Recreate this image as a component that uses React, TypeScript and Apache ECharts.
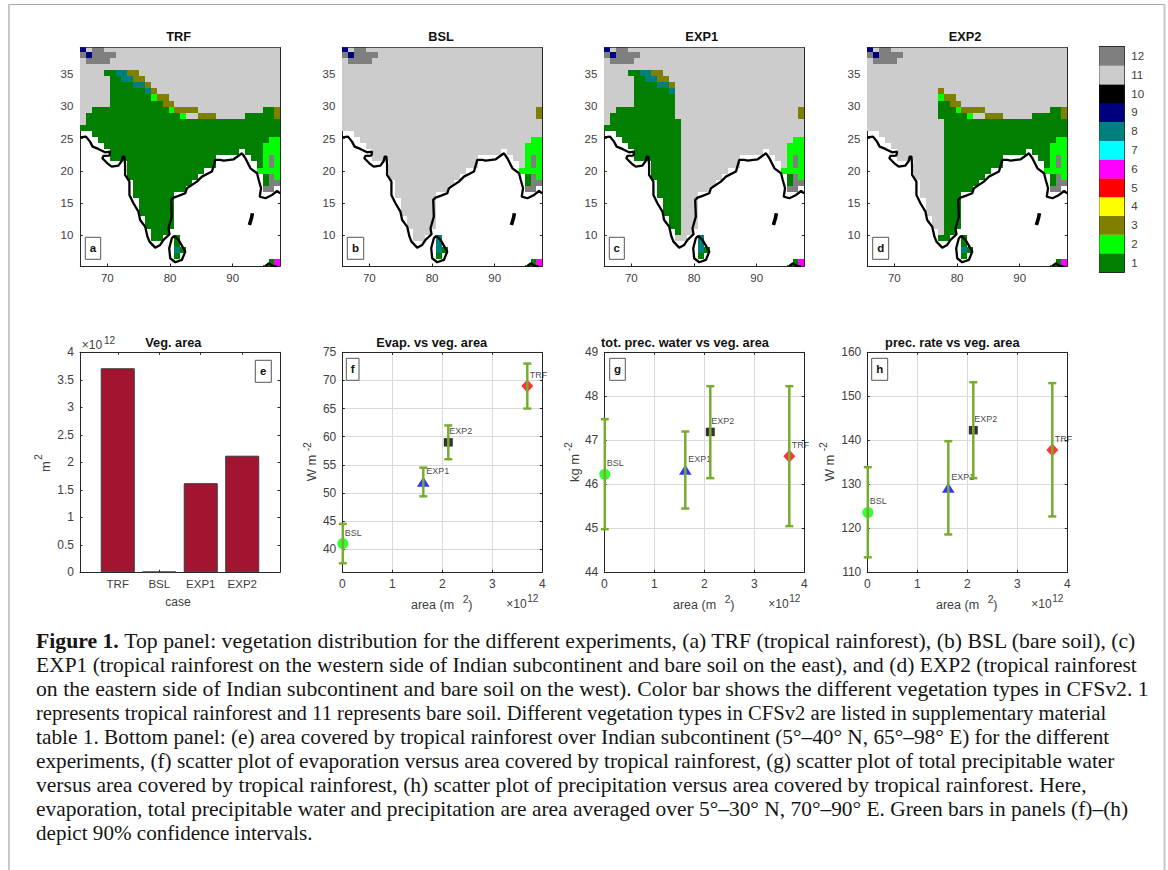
import React, { useEffect, useRef } from "react";
import * as echarts from "echarts";

const FONT = "'Liberation Sans', Arial, sans-serif";
const SERIF = "'Liberation Serif', serif";
const INK = "#404040";
const AXIS = "#262626";

// vegetation palette, index = vegetation type
const vegetationTypes = [1, 2, 3, 4, 5, 6, 7, 8, 9, 10, 11, 12];
const vegetationColors = ["#007f00", "#00ff00", "#7f7f00", "#ffff00", "#ff0000", "#ff00ff", "#00ffff", "#007f7f", "#00007f", "#000000", "#cccccc", "#7f7f7f"];

// grid geometry of the model cells (degrees)
const LON_EDGE = 65.68;
const LON_STEP = 0.9387;
const LAT_FIRST = 38.98;
const LAT_STEP = 0.947;
const LON_MAX = 97.6;
const LAT_MIN = 5.23;
const LAT_MAX = 39.13;
const lonTicks = [70, 80, 90];
const latTicks = [10, 15, 20, 25, 30, 35];

// bare-soil map, one run-length encoded row per latitude (hex type, '.' = sea)
const bslRows = [
  "9 b c:2 b:30", "c 9 c:4 b:28", "b c:4 b:29", "b:34", "b:34", "b:34", "b:34", "b:34", "b:34", "b:34",
  "b:33 3", "b:33 3", "b:34", "b:34", ".:2 b:32", ".:3 b:29 2:2", ".:4 b:27 2:3",
  ".:5 b:22 . b:3 2:3", ".:5 b:18 .:6 b:2 2 c 2", ".:8 b:15 .:7 b 2 c 2", ".:8 b:13 .:9 2:4",
  ".:8 b:12 .:11 1 c 2", ".:9 b:10 .:12 1 c:2", ".:9 b:9 .:13 c:2 .", ".:9 b:7 .:18",
  ".:10 b:6 .:18", ".:10 b:6 .:18", ".:10 b:6 .:18", ".:11 b:5 .:18", ".:11 b:5 .:18",
  ".:12 b:3 .:19", ".:12 b:2 .:2 8 .:17", ".:16 8 .:17", ".:16 8 1 .:16", ".:16 1 .:17", ".:32 1 6", ".:31 1:2 6",
];

// what the rainforest run changes on top of the bare-soil map ('_' = unchanged)
const trfRows = [
  "", "", "", "", "_:4 1:2 8:2 3:2", "_:5 1:2 8:2 3:2", "_:5 1:4 8:2 3", "_:5 1:6 8 3", "_:5 1:7 2 3:2", "_:5 1:9 3:2",
  "_:2 1:13 2 3:4 _:11 1:2", "_:1 1:16 2 _:2 3:3 _:5 1:5", "_ 1:33", "1:34", "_:2 1:32", "_:3 1:29", "_:4 1:27",
  "_:5 1:22 _ 1:3", "_:5 1:18 _:6 1:2", "_:8 1:15 _:7 1", "_:8 1:13", "_:8 1:12", "_:9 1:10", "_:9 1:9", "_:9 1:7",
  "_:10 1:6", "_:10 1:6", "_:10 1:6", "_:11 1:5", "_:11 1:5", "_:12 1:3", "_:12 1:2 _:2 1", "_:16 1", "", "", "", "",
];

// last rainforest column kept by EXP1 and first kept by EXP2, per row
const exp1LastCol = [11, 11, 11, 11, 11, 11, 11, 11, 11, 11, 11, 11, 12, 12, 12, 12, 12, 12, 12, 12, 12, 12, 12, 12, 12, 12, 12, 12, 12, 12, 12, -1, -1, -1, -1, -1, -1];
const exp2FirstCol = [12, 12, 12, 12, 12, 12, 12, 12, 12, 12, 12, 12, 13, 13, 13, 13, 13, 13, 13, 13, 13, 13, 13, 13, 13, 13, 13, 13, 13, 13, 13, 12, 12, 12, 12, 12, 12];

// coastlines, [lon, lat]
const mainCoast = [
  [65.68, 25.22], [66.59, 25.32], [67.23, 24.54], [67.65, 23.77], [68.56, 23.41], [69.63, 22.89], [70.43, 22.99], [70.32, 22.37], [69.36, 22.32], [69.2, 21.96],
  [70, 21.18], [70.69, 20.66], [71.76, 20.82], [72.29, 21.54], [72.45, 22.22], [72.72, 22.22], [72.83, 20.92], [72.83, 19.37], [73.52, 18.33], [73.52, 16.26],
  [74.16, 14.97], [74.96, 13.67], [75.23, 12.38], [76.03, 11.35], [76.4, 9.79], [76.72, 9.02], [77.63, 8.08], [78.43, 8.5], [78.96, 9.28], [79.92, 10.16],
  [79.76, 11.09], [80.29, 12.9], [80.19, 15.49], [80.56, 15.85], [81.36, 16.11], [82.43, 16.52], [82.69, 17.3], [84.29, 18.33], [85.09, 19.11], [86.69, 19.89],
  [87.23, 21.7], [88.03, 21.7], [88.56, 21.59], [90.16, 21.8], [91.49, 22.73], [92.03, 21.96], [92.83, 20.4], [93.89, 19.63], [94.16, 18.59], [94.53, 17.3],
  [94.32, 16], [95.23, 15.75], [96.29, 16.26], [97.09, 16.88], [97.57, 16.52],
];
const sriLanka = [[80.67, 9.9], [81.36, 9.28], [82.43, 7.46], [81.89, 6.17], [80.83, 5.81], [80.03, 6.43], [79.87, 7.98], [80.29, 9.53], [80.67, 9.9]];
const andaman = [[93.15, 13.42], [92.99, 12.64], [92.67, 11.6]];
const sumatra = [[95.23, 5.24], [95.76, 5.65], [96.29, 5.29], [97.09, 5.13]];
const coastlines = [mainCoast, sriLanka, andaman, sumatra];
const coastWidths = [2.3, 2.3, 3.6, 2.3];

// bottom row values (area in 10^12 m2)
const cases = ["TRF", "BSL", "EXP1", "EXP2"];
const caseSlots = [1, 2, 3, 4];
const vegArea = [3.71, 0.01, 1.62, 2.12];
const scatterArea = [3.7, 0.01, 1.62, 2.12];
const evap = [69, 41, 52, 59];
const evapLow = [65, 37.5, 49.4, 56];
const evapHigh = [73, 44.5, 54.5, 62];
const water = [46.64, 46.23, 46.33, 47.19];
const waterLow = [45.05, 44.98, 45.45, 46.14];
const waterHigh = [48.23, 47.48, 47.2, 48.23];
const rate = [137.8, 123.6, 129.2, 142.3];
const rateLow = [122.7, 113.4, 118.6, 131.4];
const rateHigh = [153, 133.9, 139.8, 153.2];
const areaTicks = [0, 1, 2, 3, 4];
const areaBarTicks = [0, 0.5, 1, 1.5, 2, 2.5, 3, 3.5, 4];
const evapTicks = [40, 45, 50, 55, 60, 65, 70, 75];
const waterTicks = [44, 45, 46, 47, 48, 49];
const rateTicks = [110, 120, 130, 140, 150, 160];

const captionLines = [
  "Top panel: vegetation distribution for the different experiments, (a) TRF (tropical rainforest), (b) BSL (bare soil), (c)",
  "EXP1 (tropical rainforest on the western side of Indian subcontinent and bare soil on the east), and (d) EXP2 (tropical rainforest",
  "on the eastern side of Indian subcontinent and bare soil on the west). Color bar shows the different vegetation types in CFSv2. 1",
  "represents tropical rainforest and 11 represents bare soil. Different vegetation types in CFSv2 are listed in supplementary material",
  "table 1. Bottom panel: (e) area covered by tropical rainforest over Indian subcontinent (5°–40° N, 65°–98° E) for the different",
  "experiments, (f) scatter plot of evaporation versus area covered by tropical rainforest, (g) scatter plot of total precipitable water",
  "versus area covered by tropical rainforest, (h) scatter plot of precipitation versus area covered by tropical rainforest. Here,",
  "evaporation, total precipitable water and precipitation are area averaged over 5°–30° N, 70°–90° E. Green bars in panels (f)–(h)",
  "depict 90% confidence intervals.",
];
// horizontal fit of each caption line to the width it takes in the reference
const captionFit = [1.086, 1.075, 1.088, 1.032, 1.067, 1.063, 1.079, 1.071, 1.056];

const decodeRow = (row: string): string[] =>
  row.split(" ").filter(Boolean).flatMap((t) => {
    const parts = t.split(":");
    return Array(Number(parts[1] || 1)).fill(parts[0]);
  });

const bslGrid = bslRows.map(decodeRow);
const trfGrid = trfRows.map(decodeRow);

function mapCells(useTrf: (row: number, col: number) => boolean) {
  const out: number[][] = [];
  bslGrid.forEach((cells, r) => {
    cells.forEach((ch, c) => {
      const over = trfGrid[r][c];
      const code = over && over !== "_" && useTrf(r, c) ? over : ch;
      if (code === ".") return;
      out.push([LON_EDGE + LON_STEP * (c + 0.5), LAT_FIRST - LAT_STEP * r, parseInt(code, 16)]);
    });
  });
  return out;
}

const mapPanels = [
  { title: "TRF", cells: mapCells(() => true) },
  { title: "BSL", cells: mapCells(() => false) },
  { title: "EXP1", cells: mapCells((r, c) => c <= exp1LastCol[r]) },
  { title: "EXP2", cells: mapCells((r, c) => c >= exp2FirstCol[r]) },
];

function buildOption() {
  const grid: any[] = [];
  const xAxis: any[] = [];
  const yAxis: any[] = [];
  const series: any[] = [];
  const title: any[] = [];
  const graphic: any[] = [];

  const addTitle = (text: string, x: number, y: number) =>
    title.push({ text, left: x, top: y, padding: 0, textAlign: "center", textVerticalAlign: "middle", textStyle: { fontFamily: FONT, fontSize: 12.8, fontWeight: "bold", color: "#111" } });

  const addText = (text: string, x: number, y: number, o: any = {}) =>
    graphic.push({ type: "text", x, y, rotation: o.rotate ? Math.PI / 2 : 0, z: 20, style: { text, fontFamily: o.family || FONT, fontSize: o.size || 12, fontWeight: o.weight || "normal", fill: o.fill || INK, textAlign: o.align || "left", textVerticalAlign: "middle" } });

  const addBox = (letter: string, x0: number, x1: number, y0: number, y1: number) => {
    graphic.push({ type: "rect", z: 19, shape: { x: x0, y: y0, width: x1 - x0, height: y1 - y0 }, style: { fill: "#fff", stroke: "#555", lineWidth: 1 } });
    addText(letter, (x0 + x1) / 2, (y0 + y1) / 2, { size: 11.5, weight: "bold", fill: "#111", align: "center" });
  };

  const addGrid = (left: number, right: number, top: number, bottom: number, x: any, y: any) => {
    const g = grid.length;
    grid.push({ left, top, width: right - left, height: bottom - top, show: false });
    const base = (ax: any, position: string, withLabels: boolean) => ({
      type: "value",
      gridIndex: g,
      position,
      min: ax.min,
      max: ax.max,
      scale: true,
      axisLine: { show: true, onZero: false, lineStyle: { color: AXIS, width: 1 } },
      axisTick: { show: true, inside: true, length: 2.5, customValues: ax.ticks, lineStyle: { color: AXIS, width: 1 } },
      axisLabel: withLabels
        ? { show: true, customValues: ax.ticks, margin: ax.margin ?? 6, fontFamily: FONT, fontSize: ax.size ?? 11.5, color: INK, formatter: ax.format || ((v: number) => String(v)), showMinLabel: true, showMaxLabel: true }
        : { show: false },
      splitLine: { show: !!ax.lines && withLabels, lineStyle: { color: "#d9d9d9", width: 1 } },
    });
    xAxis.push(base(x, "bottom", true), base(x, "top", false));
    yAxis.push(base(y, y.side || "left", true), base(y, y.side === "right" ? "left" : "right", false));
    return { xAxisIndex: xAxis.length - 2, yAxisIndex: yAxis.length - 2 };
  };

  const rectItem = (_: any, api: any) => {
    const lon = api.value(0);
    const lat = api.value(1);
    const a = api.coord([lon - LON_STEP / 2, lat + LAT_STEP / 2]);
    const b = api.coord([lon + LON_STEP / 2, lat - LAT_STEP / 2]);
    const x0 = Math.round(a[0]);
    const y0 = Math.round(a[1]);
    return { type: "rect", shape: { x: x0, y: y0, width: Math.round(b[0]) - x0, height: Math.round(b[1]) - y0 }, style: { fill: vegetationColors[api.value(2) - 1] } };
  };

  // map row
  const mapLefts = [80.3, 342.3, 604.3, 867.3];
  const mapLetters = ["a", "b", "c", "d"];
  const mapBoxes = [[85.3, 100.7], [347.3, 363.7], [609.3, 624.3], [872.7, 888.7]];
  const mapTitleX = [178.7, 441, 701.7, 965];
  mapPanels.forEach((p, i) => {
    const left = mapLefts[i];
    const axes = addGrid(left, left + 200, 47.7, 266, { min: LON_EDGE, max: LON_MAX, ticks: lonTicks }, { min: LAT_MIN, max: LAT_MAX, ticks: latTicks, margin: 7 });
    series.push({ type: "custom", ...axes, clip: true, z: 2, data: p.cells, encode: { x: 0, y: 1 }, renderItem: rectItem, silent: true });
    coastlines.forEach((c, k) => {
      series.push({ type: "line", ...axes, clip: true, z: 3, data: c, symbol: "none", silent: true, lineStyle: { color: "#000", width: coastWidths[k] } });
    });
    addTitle(p.title, mapTitleX[i], 36.7);
    addBox(mapLetters[i], mapBoxes[i][0], mapBoxes[i][1], 237.3, 259.3);
  });

  // colour bar
  const cbAxes = addGrid(1099.3, 1124.3, 46.7, 272, { min: 0, max: 1, ticks: [] }, { min: 0.5, max: 12.5, ticks: vegetationTypes, side: "right", margin: 7 });
  xAxis[cbAxes.xAxisIndex].axisLabel = { show: false };
  series.push({
    type: "custom", ...cbAxes, clip: true, z: 2, silent: true, data: vegetationTypes.map((v) => [0.5, v]), encode: { x: 0, y: 1 },
    renderItem: (_: any, api: any) => {
      const p = api.coord([api.value(0), api.value(1)]);
      const s = api.size([1, 1]);
      return { type: "rect", shape: { x: p[0] - s[0] / 2, y: p[1] - s[1] / 2, width: s[0], height: s[1] + 0.3 }, style: { fill: vegetationColors[api.value(1) - 1] } };
    },
  });

  // bars
  const barAxes = addGrid(80, 280, 352.3, 572.3,
    { min: 0.09, max: 4.91, ticks: caseSlots, size: 11.5, format: (v: number) => cases[v - 1] },
    { min: 0, max: 4, ticks: areaBarTicks, size: 12 });
  series.push({ type: "bar", ...barAxes, barWidth: 34, z: 3, data: vegArea.map((v, i) => [caseSlots[i], v]), itemStyle: { color: "#a2142f", borderColor: "#3a3a3a", borderWidth: 1 } });
  addTitle("Veg. area", 173.3, 342);
  addText("case", 178, 602, { size: 12, align: "center" });
  addText("×10", 81.7, 345, { size: 12 });
  addText("12", 104, 340.5, { size: 10 });
  addText("m", 45, 466.7, { size: 13, rotate: true, align: "center" });
  addText("2", 38, 457, { size: 10.5, rotate: true, align: "center" });
  addBox("e", 255.3, 271.3, 360.3, 382.3);

  // scatter panels
  const scatterPanels = [
    { name: "Evap. vs veg. area", letter: "f", left: 342.3, titleX: 431.7, vals: evap, low: evapLow, high: evapHigh, min: 35.9, max: 75, ticks: evapTicks, unit: "W m", unitX: 311.7, expX: 306.7, box: [346.3, 359] },
    { name: "tot. prec. water vs veg. area", letter: "g", left: 604.3, titleX: 685, vals: water, low: waterLow, high: waterHigh, min: 44, max: 49, ticks: waterTicks, unit: "kg m", unitX: 574, expX: 568, box: [609.7, 625.3] },
    { name: "prec. rate vs veg. area", letter: "h", left: 867.3, titleX: 952.3, vals: rate, low: rateLow, high: rateHigh, min: 110, max: 160, ticks: rateTicks, unit: "W m", unitX: 829, expX: 823, box: [871.7, 887.7] },
  ];
  const markers = [
    { symbol: "diamond", size: [12, 13], color: "#ff0000" },
    { symbol: "circle", size: [11, 11], color: "#00ff00" },
    { symbol: "triangle", size: [12.7, 10], color: "#0000ff" },
    { symbol: "rect", size: [9, 8.5], color: "#000000" },
  ];
  scatterPanels.forEach((p) => {
    const axes = addGrid(p.left, p.left + 200, 352.3, 572.3,
      { min: 0, max: 4, ticks: areaTicks, size: 12, lines: true },
      { min: p.min, max: p.max, ticks: p.ticks, size: 12, lines: true });
    cases.forEach((name, i) => {
      const m = markers[i];
      series.push({
        type: "scatter", ...axes, z: 3, silent: true, clip: false, symbol: m.symbol, symbolSize: m.size,
        itemStyle: { color: m.color },
        label: { show: true, position: "right", distance: 0, offset: [-3.5, -11], formatter: name, fontFamily: FONT, fontSize: 9, color: "#111" },
        data: [[scatterArea[i], p.vals[i]]],
      });
    });
    series.push({
      type: "custom", ...axes, z: 4, silent: true, clip: false,
      data: cases.map((_, i) => [scatterArea[i], p.low[i], p.high[i]]), encode: { x: 0, y: [1, 2] },
      renderItem: (_: any, api: any) => {
        const a = api.coord([api.value(0), api.value(1)]);
        const b = api.coord([api.value(0), api.value(2)]);
        const st = { stroke: "#77ac30", lineWidth: 2.5, fill: "none" };
        return {
          type: "group",
          children: [
            { type: "line", shape: { x1: a[0], y1: a[1], x2: b[0], y2: b[1] }, style: st },
            { type: "line", shape: { x1: a[0] - 4, y1: a[1], x2: a[0] + 4, y2: a[1] }, style: st },
            { type: "line", shape: { x1: b[0] - 4, y1: b[1], x2: b[0] + 4, y2: b[1] }, style: st },
          ],
        };
      },
    });
    addTitle(p.name, p.titleX, 342);
    addText("area (m", p.left + 68.7, 605, { size: 12.5 });
    addText("2", p.left + 120.4, 599, { size: 10.5 });
    addText(")", p.left + 126, 605, { size: 12.5 });
    addText("×10", p.left + 164, 603.7, { size: 12 });
    addText("12", p.left + 185, 598.3, { size: 10 });
    addText(p.unit, p.unitX, 468, { size: 13, rotate: true, align: "center" });
    addText("-2", p.expX, 446.7, { size: 10.5, rotate: true, align: "center" });
    addBox(p.letter, p.box[0], p.box[1], 358.3, 380.3);
  });

  // caption
  captionLines.forEach((line, i) => {
    const y = 641.7 + 23.9 * i;
    graphic.push({
      type: "text", x: 36, y, z: 20, scaleX: captionFit[i],
      style: {
        rich: { b: { fontFamily: SERIF, fontSize: 20, fontWeight: "bold", fill: "#151515" }, n: { fontFamily: SERIF, fontSize: 20, fill: "#151515" } },
        text: i === 0 ? `{b|Figure 1.} {n|${line}}` : `{n|${line}}`,
        fontFamily: SERIF, fontSize: 20, fill: "#151515", textVerticalAlign: "middle",
      },
    });
  });

  // page frame
  graphic.push({ type: "line", z: 1, shape: { x1: 8, y1: 4.5, x2: 1165, y2: 4.5 }, style: { stroke: "#a8a8a8", lineWidth: 1.2 } });
  graphic.push({ type: "line", z: 1, shape: { x1: 9, y1: 4, x2: 9, y2: 870 }, style: { stroke: "#c8c8c8", lineWidth: 2 } });
  graphic.push({ type: "line", z: 1, shape: { x1: 1164.5, y1: 4, x2: 1164.5, y2: 870 }, style: { stroke: "#c8c8c8", lineWidth: 2 } });

  return { animation: false, backgroundColor: "#ffffff", tooltip: { show: false }, title, grid, xAxis, yAxis, series, graphic };
}

export default function App() {
  const ref = useRef<HTMLDivElement>(null);
  useEffect(() => {
    if (!ref.current) return;
    const chart = echarts.init(ref.current, undefined, { renderer: "svg" });
    chart.setOption(buildOption());
    return () => chart.dispose();
  }, []);
  return <div ref={ref} style={{ position: "absolute", left: 0, top: 0, width: 1168, height: 870 }} />;
}
